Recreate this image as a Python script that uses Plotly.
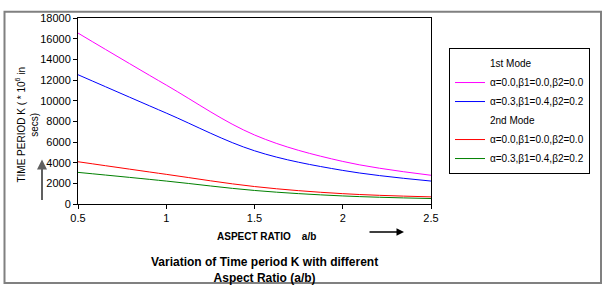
import plotly.graph_objects as go

aspect_ratio = [0.5, 1.0, 1.5, 2.0, 2.5]
mode1_a = [16540, 11510, 6680, 4120, 2780]
mode1_b = [12510, 8800, 5150, 3250, 2220]
mode2_a = [4090, 2870, 1690, 1000, 690]
mode2_b = [3060, 2220, 1310, 780, 530]

name_a = "\u03b1=0.0,\u03b21=0.0,\u03b22=0.0"
name_b = "\u03b1=0.3,\u03b21=0.4,\u03b22=0.2"

W, H = 605, 289
L, R, T, B = 78, 431, 12, 204

def px(x):
    return (x - L) / (R - L)

def py(y):
    return (B - y) / (B - T)

fig = go.Figure()
fig.add_trace(go.Scatter(x=[None], y=[None], mode="lines", name="1st Mode",
                         line=dict(color="rgba(0,0,0,0)", width=1)))
fig.add_trace(go.Scatter(x=aspect_ratio, y=mode1_a, mode="lines", name=name_a,
                         line=dict(color="#FF00FF", width=1, shape="spline")))
fig.add_trace(go.Scatter(x=aspect_ratio, y=mode1_b, mode="lines", name=name_b,
                         line=dict(color="#0000FF", width=1, shape="spline")))
fig.add_trace(go.Scatter(x=[None], y=[None], mode="lines", name="2nd Mode",
                         line=dict(color="rgba(0,0,0,0)", width=1)))
fig.add_trace(go.Scatter(x=aspect_ratio, y=mode2_a, mode="lines", name=name_a,
                         line=dict(color="#FF0000", width=1, shape="spline")))
fig.add_trace(go.Scatter(x=aspect_ratio, y=mode2_b, mode="lines", name=name_b,
                         line=dict(color="#008000", width=1, shape="spline")))

font = "Liberation Sans, Arial, sans-serif"

fig.update_layout(
    width=W, height=H,
    margin=dict(l=L, r=W - R, t=T, b=H - B),
    paper_bgcolor="white", plot_bgcolor="white",
    font=dict(family=font, size=11, color="black"),
    showlegend=True,
    legend=dict(x=px(449), y=py(43), xanchor="left", yanchor="top",
                bordercolor="black", borderwidth=1, bgcolor="white",
                font=dict(size=10), tracegroupgap=0),
    xaxis=dict(range=[0.5, 2.5], tickvals=[0.5, 1, 1.5, 2, 2.5],
               ticktext=["0.5", "1", "1.5", "2", "2.5"],
               showgrid=False, zeroline=False, showline=True, linecolor="black",
               linewidth=1, mirror=True, ticks="outside", ticklen=4,
               tickcolor="black", tickfont=dict(size=11)),
    yaxis=dict(range=[0, 18000], dtick=2000, tickformat="d", showgrid=False,
               zeroline=False, showline=True, linecolor="black", linewidth=1,
               mirror=True, ticks="outside", ticklen=4, tickcolor="black",
               tickfont=dict(size=11)),
    shapes=[dict(type="rect", xref="paper", yref="paper",
                 x0=px(4.5), x1=px(601), y0=py(285.5), y1=py(5.5),
                 line=dict(color="#808080", width=2), layer="below")],
    annotations=[
        dict(text="TIME PERIOD K ( * 10<sup>6</sup> in<br>secs)", textangle=-90,
             xref="paper", yref="paper", x=px(27), y=py(122), showarrow=False,
             xanchor="center", yanchor="middle", font=dict(size=10)),
        dict(text="", xref="paper", yref="paper", x=px(42), y=py(158),
             ax=0, ay=42, showarrow=True, arrowhead=2, arrowsize=1,
             arrowwidth=2, arrowcolor="#606060"),
        dict(text="", xref="paper", yref="paper", x=px(404), y=py(233),
             ax=-36, ay=0, showarrow=True, arrowhead=2, arrowsize=1,
             arrowwidth=1.5, arrowcolor="black"),
        dict(text="<b>ASPECT RATIO\u00a0\u00a0\u00a0 a/b</b>", xref="paper", yref="paper",
             x=px(266), y=py(238), showarrow=False, xanchor="center",
             yanchor="middle", font=dict(size=10)),
        dict(text="<b>Variation of Time period K with different<br>Aspect Ratio (a/b)</b>",
             xref="paper", yref="paper", x=px(264), y=py(272), showarrow=False,
             xanchor="center", yanchor="middle", font=dict(size=12)),
    ],
)

fig.write_html("out.html", config={"displayModeBar": False},
               post_script="document.body.style.margin='0';document.body.style.overflow='hidden';")
